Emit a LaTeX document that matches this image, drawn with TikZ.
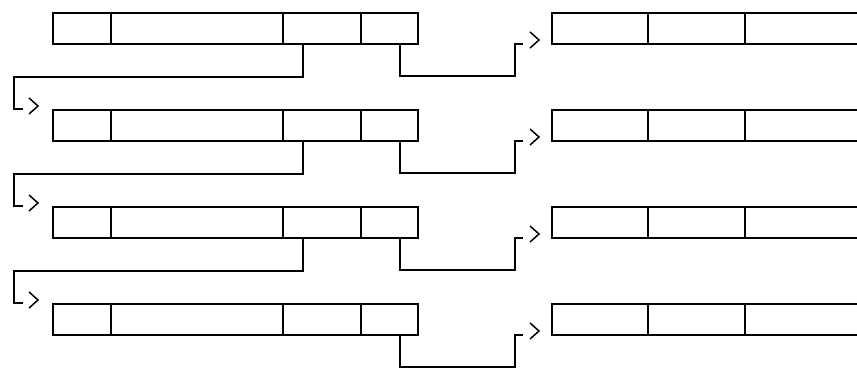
\documentclass[tikz,border=0pt]{standalone}
\usetikzlibrary{calc}
\begin{document}
\begin{tikzpicture}[x=1pt,y=-1pt,
  cell/.style={draw,line width=1.6pt,minimum height=31pt,inner sep=0pt,outer sep=0pt,anchor=north west},
  conn/.style={line width=1.5pt},
  chev/.pic={\draw[conn] (-9,-8) -- (0,0) -- (-9,8);}]
\useasboundingbox (0,0) rectangle (857,369);
\foreach \i/\t in {1/13,2/110,3/207,4/304}{
  \node[cell,minimum width=58pt] (La\i) at (53,\t) {};
  \node[cell,minimum width=172pt] (Lb\i) at (111,\t) {};
  \node[cell,minimum width=78pt] (Lc\i) at (283,\t) {};
  \node[cell,minimum width=57pt] (Ld\i) at (361,\t) {};
  \node[cell,minimum width=96pt] (Ra\i) at (552,\t) {};
  \node[cell,minimum width=97pt] (Rb\i) at (648,\t) {};
  \node[cell,draw=none,minimum width=112pt] (Rc\i) at (745,\t) {};
  \draw[line width=1.6pt] (Rc\i.north west) -- (Rc\i.north east) (Rc\i.south west) -- (Rc\i.south east);
  % connector to the right-hand record
  \draw[conn] ([xshift=39pt]Ld\i.south west) -- ++(0,32) -| ([xshift=-37pt]Ra\i.south west) -- ([xshift=-29pt]Ra\i.south west);
  \pic at ([shift={(-13,-4)}]Ra\i.south west) {chev};
}
\foreach \i/\j in {1/2,2/3,3/4}{
  \draw[conn] ([xshift=20pt]Lc\i.south west) -- ++(0,33) -| ([shift={(-39,-1)}]La\j.north west) -- ([shift={(-30,-1)}]La\j.north west);
  \pic at ([shift={(-15,-4)}]La\j.north west) {chev};
}
\end{tikzpicture}
\end{document}
